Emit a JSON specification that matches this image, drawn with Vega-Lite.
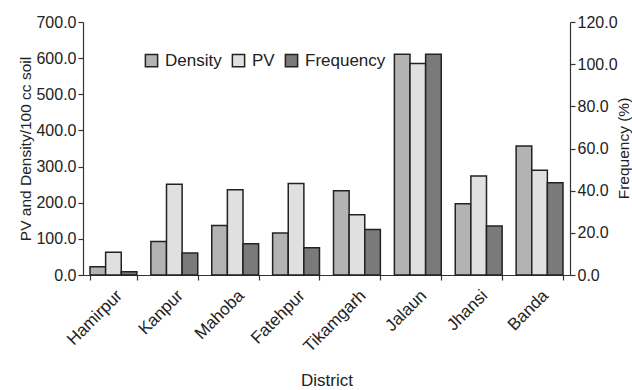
{
  "$schema": "https://vega.github.io/schema/vega-lite/v6.json",
  "width": 487,
  "height": 253,
  "autosize": "none",
  "padding": {"left": 83, "top": 22, "right": 62, "bottom": 115},
  "config": {
    "font": "Liberation Sans",
    "view": {"stroke": null},
    "axis": {
      "grid": false,
      "domainColor": "#333333",
      "domainWidth": 1.2,
      "tickColor": "#333333",
      "tickWidth": 1.2,
      "tickSize": 5,
      "labelColor": "#222222",
      "labelFontSize": 16,
      "titleColor": "#222222",
      "titleFontSize": 17,
      "titleFontWeight": "normal"
    }
  },
  "data": {
    "values": [
      {"district": "Hamirpur", "series": "Density", "value": 23},
      {"district": "Hamirpur", "series": "PV", "value": 63},
      {"district": "Hamirpur", "series": "Frequency", "value": 1.6},
      {"district": "Kanpur", "series": "Density", "value": 93},
      {"district": "Kanpur", "series": "PV", "value": 251},
      {"district": "Kanpur", "series": "Frequency", "value": 10.4},
      {"district": "Mahoba", "series": "Density", "value": 137},
      {"district": "Mahoba", "series": "PV", "value": 236},
      {"district": "Mahoba", "series": "Frequency", "value": 14.8},
      {"district": "Fatehpur", "series": "Density", "value": 116},
      {"district": "Fatehpur", "series": "PV", "value": 253},
      {"district": "Fatehpur", "series": "Frequency", "value": 12.9},
      {"district": "Tikamgarh", "series": "Density", "value": 233},
      {"district": "Tikamgarh", "series": "PV", "value": 167},
      {"district": "Tikamgarh", "series": "Frequency", "value": 21.6},
      {"district": "Jalaun", "series": "Density", "value": 611},
      {"district": "Jalaun", "series": "PV", "value": 585},
      {"district": "Jalaun", "series": "Frequency", "value": 104.7},
      {"district": "Jhansi", "series": "Density", "value": 197},
      {"district": "Jhansi", "series": "PV", "value": 274},
      {"district": "Jhansi", "series": "Frequency", "value": 23.2},
      {"district": "Banda", "series": "Density", "value": 357},
      {"district": "Banda", "series": "PV", "value": 290},
      {"district": "Banda", "series": "Frequency", "value": 43.7}
    ]
  },
  "encoding": {
    "x": {
      "field": "district",
      "type": "nominal",
      "sort": ["Hamirpur", "Kanpur", "Mahoba", "Fatehpur", "Tikamgarh", "Jalaun", "Jhansi", "Banda"],
      "scale": {"paddingInner": 0.23, "paddingOuter": 0.115},
      "axis": {
        "title": "District",
        "labelAngle": -45,
        "labelFontSize": 17,
        "tickBand": "extent",
        "labelPadding": 7,
        "titlePadding": 18
      }
    },
    "xOffset": {
      "field": "series",
      "type": "nominal",
      "scale": {"domain": ["Density", "PV", "Frequency"], "paddingInner": 0, "paddingOuter": 0}
    },
    "color": {
      "field": "series",
      "type": "nominal",
      "scale": {"domain": ["Density", "PV", "Frequency"], "range": ["#b3b3b3", "#e0e0e0", "#7a7a7a"]},
      "legend": {
        "title": null,
        "orient": "none",
        "legendX": 60,
        "legendY": 30,
        "direction": "horizontal",
        "symbolType": "square",
        "symbolSize": 150,
        "symbolStrokeColor": "#222222",
        "symbolStrokeWidth": 1.5,
        "labelFontSize": 17,
        "labelColor": "#222222",
        "labelOffset": 5,
        "columnPadding": 7
      }
    }
  },
  "layer": [
    {
      "transform": [{"filter": "datum.series != 'Frequency'"}],
      "mark": {"type": "bar", "stroke": "#222222", "strokeWidth": 1.5},
      "encoding": {
        "y": {
          "field": "value",
          "type": "quantitative",
          "scale": {"domain": [0, 700], "nice": false},
          "axis": {
            "title": "PV and Density/100 cc soil",
            "titleFontSize": 15.5,
            "values": [0, 100, 200, 300, 400, 500, 600, 700],
            "format": ".1f",
            "titlePadding": 2
          }
        }
      }
    },
    {
      "transform": [{"filter": "datum.series == 'Frequency'"}],
      "mark": {"type": "bar", "stroke": "#222222", "strokeWidth": 1.5},
      "encoding": {
        "y": {
          "field": "value",
          "type": "quantitative",
          "scale": {"domain": [0, 120], "nice": false},
          "axis": {
            "orient": "right",
            "title": "Frequency (%)",
            "titleFontSize": 15.5,
            "titleAngle": 270,
            "titleX": 53,
            "titleY": 126,
            "titleAlign": "center",
            "titleBaseline": "middle",
            "values": [0, 20, 40, 60, 80, 100, 120],
            "format": ".1f"
          }
        }
      }
    }
  ],
  "resolve": {"scale": {"y": "independent"}}
}
